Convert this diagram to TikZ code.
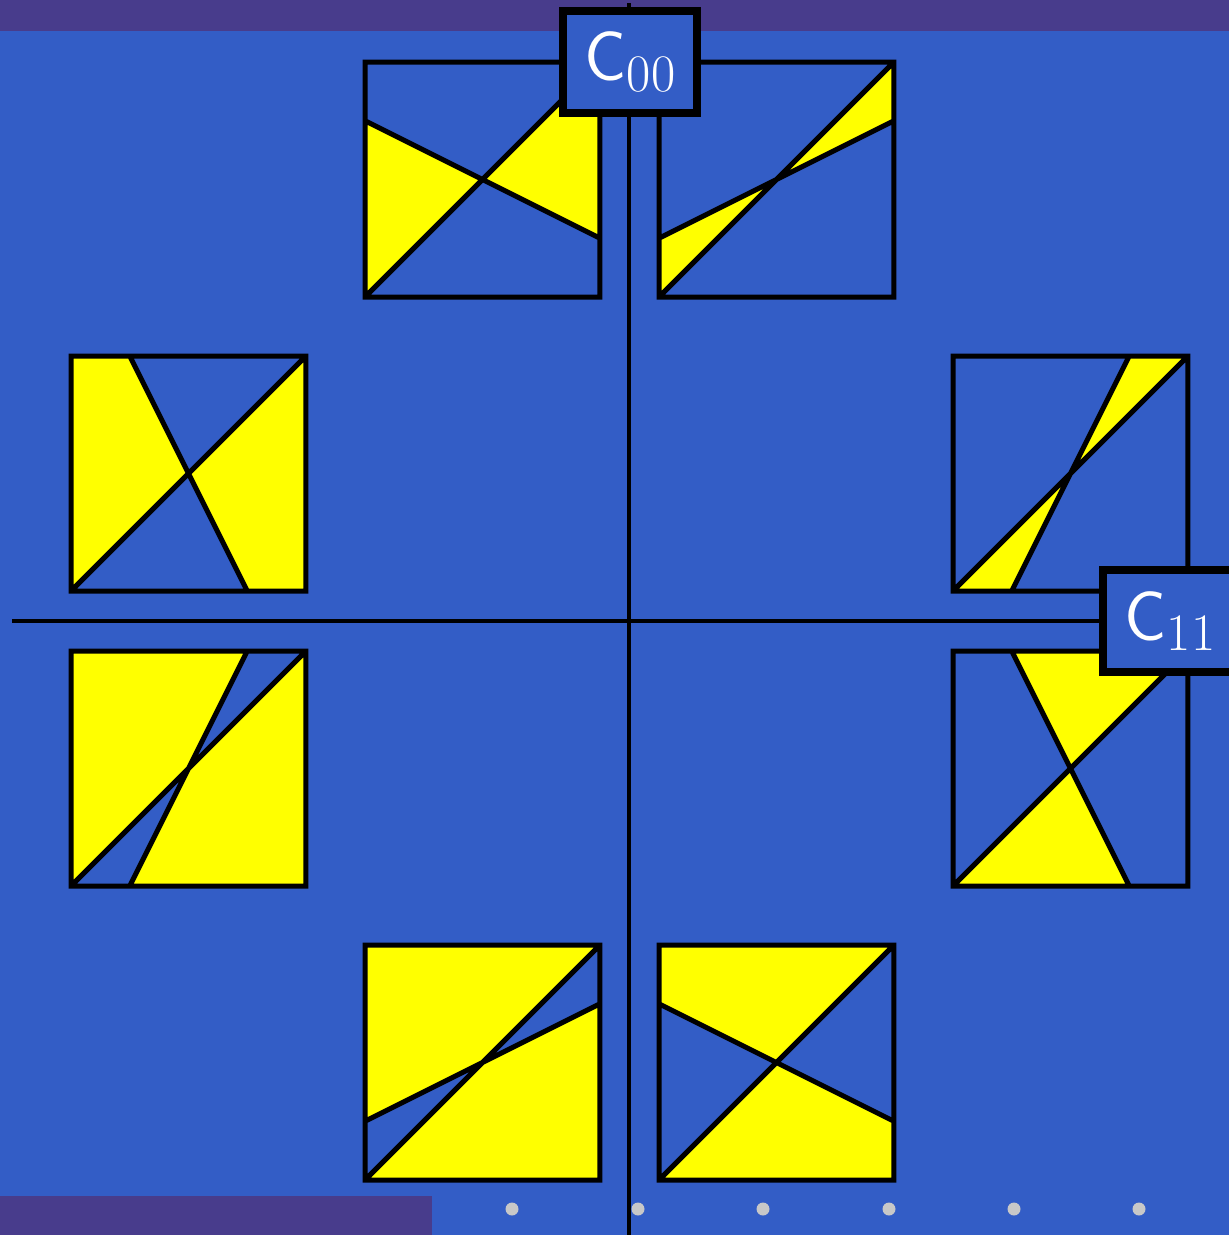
\documentclass[tikz,border=0pt]{standalone}
\usepackage{fontspec}
\definecolor{bgblue}{RGB}{51,93,198}
\definecolor{barpurple}{RGB}{72,60,140}
\definecolor{dotgray}{RGB}{200,200,200}
\definecolor{tileyellow}{RGB}{255,255,0}
\newcommand{\tileat}[3]{\begin{scope}[shift={(#1,#2)}, x=4.7cm, y=4.7cm]#3\end{scope}}
\newcommand{\clabel}[1]{{\fontsize{40}{46}\selectfont\sffamily C}\raisebox{-6pt}{\fontsize{30}{34}\selectfont\rmfamily #1}}
\begin{document}
\begin{tikzpicture}[x=0.02cm,y=-0.02cm,
  tileline/.style={line width=0.1cm, draw=black},
  axisline/.style={line width=0.07cm, draw=black},
  hue/.style={fill=tileyellow},
  labelbox/.style={draw=black, line width=0.16cm, fill=bgblue, text=white,
    minimum width=2.68cm, minimum height=2.04cm, inner sep=0pt, outer sep=0pt},
  navdot/.style={circle, fill=dotgray, inner sep=0pt, minimum size=0.26cm}]
\useasboundingbox (0,0) rectangle (1229,1235);
\clip (0,0) rectangle (1229,1235);
\fill[bgblue] (0,0) rectangle (1229,1235);
\fill[barpurple] (0,0) rectangle (1229,31);
\fill[barpurple] (0,1196) rectangle (432,1235);
% vertical axis
\coordinate (vtop) at (629,3);
\coordinate (vbot) at (629,1240);
\draw[axisline] (vtop) -- (vbot);
% tiles (local unit square, y up)
% top-left
\tileat{365}{297}{
  \fill[hue] (0,.75) -- (.5,.5) -- (0,0) -- cycle (.5,.5) -- (1,1) -- (1,.25) -- cycle;
  \draw[tileline] (0,0) rectangle (1,1) (0,0) -- (1,1) (0,.75) -- (1,.25);}
% top-right
\tileat{659}{297}{
  \fill[hue] (0,.25) -- (.5,.5) -- (0,0) -- cycle (.5,.5) -- (1,1) -- (1,.75) -- cycle;
  \draw[tileline] (0,0) rectangle (1,1) (0,0) -- (1,1) (0,.25) -- (1,.75);}
% left upper
\tileat{71}{591}{
  \fill[hue] (0,0) -- (0,1) -- (.25,1) -- (.5,.5) -- cycle (.5,.5) -- (1,1) -- (1,0) -- (.75,0) -- cycle;
  \draw[tileline] (0,0) rectangle (1,1) (0,0) -- (1,1) (.25,1) -- (.75,0);}
% left lower
\tileat{71}{886}{
  \fill[hue] (0,0) -- (0,1) -- (.75,1) -- (.5,.5) -- cycle (.25,0) -- (.5,.5) -- (1,1) -- (1,0) -- cycle;
  \draw[tileline] (0,0) rectangle (1,1) (0,0) -- (1,1) (.75,1) -- (.25,0);}
% right upper
\tileat{953}{591}{
  \fill[hue] (.5,.5) -- (.75,1) -- (1,1) -- cycle (0,0) -- (.25,0) -- (.5,.5) -- cycle;
  \draw[tileline] (0,0) rectangle (1,1) (0,0) -- (1,1) (.75,1) -- (.25,0);}
% right lower
\tileat{953}{886}{
  \fill[hue] (.25,1) -- (1,1) -- (.5,.5) -- cycle (0,0) -- (.75,0) -- (.5,.5) -- cycle;
  \draw[tileline] (0,0) rectangle (1,1) (0,0) -- (1,1) (.25,1) -- (.75,0);}
% bottom-left
\tileat{365}{1180}{
  \fill[hue] (0,.25) -- (0,1) -- (1,1) -- (.5,.5) -- cycle (0,0) -- (1,0) -- (1,.75) -- (.5,.5) -- cycle;
  \draw[tileline] (0,0) rectangle (1,1) (0,0) -- (1,1) (0,.25) -- (1,.75);}
% bottom-right
\tileat{659}{1180}{
  \fill[hue] (0,.75) -- (0,1) -- (1,1) -- (.5,.5) -- cycle (0,0) -- (1,0) -- (1,.25) -- (.5,.5) -- cycle;
  \draw[tileline] (0,0) rectangle (1,1) (0,0) -- (1,1) (0,.75) -- (1,.25);}
% label boxes
\node[labelbox] (c00) at (630,62) {\clabel{00}};
\node[labelbox] (c11) at (1170,621) {\clabel{11}};
% horizontal axis
\coordinate (hleft) at (12,621);
\draw[axisline] (hleft) -- (c11.west);
% navigation dots
\foreach \i/\xx in {1/512,2/638,3/763,4/889,5/1014,6/1139}
  \node[navdot] (dot\i) at (\xx,1209) {};
\end{tikzpicture}
\end{document}
